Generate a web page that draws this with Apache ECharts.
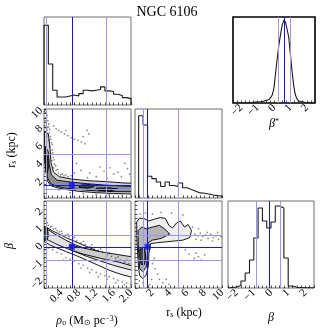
<!DOCTYPE html>
<html>
<head>
<meta charset="utf-8">
<script src="https://cdn.jsdelivr.net/npm/echarts@6/dist/echarts.min.js"></script>
<style>
  html, body { margin: 0; padding: 0; background: #fff; }
  #corner { width: 332px; height: 332px; }
</style>
</head>
<body>
<div id="corner"></div>
<script>
// 一维直方图 (bin 边界 + 计数)
const rhoEdges = [0.0, 0.1, 0.2, 0.3, 0.4, 0.5, 0.6, 0.7, 0.8, 0.9, 1.0, 1.1, 1.2, 1.3, 1.4, 1.5, 1.6, 1.7, 1.8, 1.9, 2.0];
const rhoCounts = [237, 122, 44, 24, 24, 27, 30, 27, 34, 44, 42, 44, 46, 54, 42, 40, 32, 28, 22, 19];
const rsEdges = [0.42, 0.93, 1.45, 1.94, 2.44, 2.95, 3.45, 3.96, 4.46, 4.97, 5.47, 5.98, 6.48, 6.99, 7.49, 8.0, 8.5, 9.0, 9.5, 10.0];
const rsCounts = [242, 215, 64, 57, 47, 34, 47, 37, 34, 44, 30, 25, 20, 15, 14, 12, 9, 7, 6];
const betaEdges = [-2.5, -2.25, -2.0, -1.75, -1.5, -1.25, -1.0, -0.75, -0.5, -0.25, 0.0, 0.25, 0.5, 0.75, 1.0, 1.25, 1.5, 1.75, 2.0, 2.25, 2.5];
const betaCounts = [0.5, 1, 2.5, 7, 15, 28, 50, 80, 67, 60, 66, 82, 80, 30, 2, 0.7, 0.5, 0.3, 0.2, 0.1];
const betaStarEdges = [-2.5, -2.4, -2.3, -2.2, -2.1, -2.0, -1.9, -1.8, -1.7, -1.6, -1.5, -1.4, -1.3, -1.2, -1.1, -1.0, -0.9, -0.8, -0.7, -0.6,
  -0.5, -0.4, -0.3, -0.2, -0.1, 0.0, 0.1, 0.2, 0.3, 0.4, 0.5, 0.6, 0.7, 0.8, 0.9, 1.0, 1.1, 1.2, 1.3, 1.4,
  1.5, 1.6, 1.7, 1.8, 1.9, 2.0, 2.1, 2.2, 2.3, 2.4, 2.5];
const betaStarCounts = [0, 0, 0, 0, 0, 0, 0, 0.2, 0.2, 0.3, 0.5, 0.6, 0.8, 1, 1.2, 1, 1.3, 1.5, 2, 2.5,
  3, 3.5, 4.5, 5.5, 8, 15, 30, 44, 57, 67, 76, 81, 79, 72, 64, 47, 31, 17, 8, 4,
  2, 1.2, 0.8, 0.5, 0.4, 0.3, 0.2, 0.1, 0, 0];

// 分位线 (16%, 50%, 84%)
const rhoQuant = [0.05, 0.64, 1.44];
const rsQuant = [0.95, 1.45, 4.97];
const betaQuant = [-0.88, -0.13, 0.55];
const betaStarQuant = [0.23, 0.65, 0.98];

// 刻度标签
const rhoTicks = [0.4, 0.8, 1.2, 1.6, 2.0];
const rsTicks = [2, 4, 6, 8, 10];
const betaTicks = [-2, -1, 0, 1, 2];

// rho - rs 面板
const rhoRsLevel1 = [[0.01, 7.5], [0.1, 7.2], [0.14, 5.5], [0.16, 4.0], [0.22, 2.9], [0.35, 2.4], [0.6, 2.15], [1.0, 1.95], [1.4, 1.85], [1.8, 1.7], [2.05, 1.65],
  [2.05, 0.45], [1.6, 0.5], [1.2, 0.6], [0.8, 0.75], [0.5, 0.95], [0.3, 1.15], [0.15, 1.4], [0.08, 1.9], [0.04, 3.0], [0.01, 4.5]];
const rhoRsLevel2 = [[0.03, 5.8], [0.1, 5.2], [0.12, 3.8], [0.17, 2.6], [0.3, 2.0], [0.6, 1.8], [1.0, 1.6], [1.4, 1.45], [1.8, 1.35], [2.05, 1.3],
  [2.05, 0.7], [1.6, 0.72], [1.2, 0.8], [0.8, 0.95], [0.5, 1.1], [0.3, 1.3], [0.15, 1.6], [0.08, 2.3], [0.05, 3.5]];
const rhoRsCoreA = [[0.04, 5.0], [0.09, 4.6], [0.1, 3.5], [0.08, 2.8], [0.05, 3.2], [0.035, 4.2]];
const rhoRsCoreB = [[0.85, 1.45], [1.05, 1.5], [1.15, 1.3], [1.0, 1.1], [0.8, 1.2]];
const rhoRsCoreC = [[1.2, 1.1], [1.5, 1.15], [1.7, 1.0], [1.5, 0.8], [1.25, 0.85]];
const rhoRsDots = [[0.02, 9.9], [0.04, 9.6], [0.07, 9.3], [0.03, 9.0], [0.09, 8.7], [0.05, 8.5], [0.11, 8.3], [0.02, 8.1], [0.08, 7.9], [0.13, 7.7],
  [0.05, 7.4], [0.1, 7.1], [0.15, 6.9], [0.12, 6.5], [0.17, 6.2], [0.14, 5.8], [0.19, 5.4], [0.16, 5.0], [0.21, 4.6], [0.18, 4.2],
  [0.24, 3.8], [0.22, 3.4], [0.28, 3.1], [0.33, 2.8], [0.38, 2.6], [0.46, 2.5], [0.55, 2.4], [0.62, 2.5],
  [0.01, 9.7], [0.06, 9.1], [0.03, 8.7], [0.1, 8.0], [0.07, 7.6], [0.03, 7.9], [0.12, 7.3], [0.06, 6.9], [0.16, 6.6], [0.19, 6.0],
  [0.2, 5.1], [0.23, 4.3], [0.27, 3.6], [0.31, 3.2], [0.42, 2.7], [0.5, 2.6],
  [0.22, 8.1], [0.28, 7.8], [0.34, 7.6], [0.4, 7.4], [0.47, 7.2], [0.55, 7.0], [0.62, 6.8], [0.7, 6.6], [0.78, 6.5], [0.86, 6.3],
  [0.94, 6.1], [0.99, 7.6], [1.03, 7.2], [0.9, 6.9], [0.5, 7.6],
  [0.75, 3.9], [0.85, 3.1], [1.05, 2.8], [1.2, 2.4], [1.29, 3.5], [1.38, 3.0], [1.52, 3.4], [1.6, 2.7], [1.7, 2.9], [1.78, 2.4],
  [1.86, 3.9], [1.92, 3.3], [1.97, 2.7], [1.45, 2.2], [1.0, 2.3], [0.7, 2.8],
  [0.6, 0.6], [0.9, 0.5], [1.2, 0.4], [1.5, 0.35], [1.8, 0.3], [0.35, 0.9]];

// rho - beta 面板
const rhoBetaLevel1 = [[0.0, 1.05], [0.05, 1.0], [0.2, 0.78], [0.52, 0.38], [0.8, 0.08], [1.06, -0.2], [1.3, -0.45], [1.52, -0.68], [1.75, -0.85], [2.05, -1.0],
  [2.05, -1.9], [1.75, -1.7], [1.52, -1.5], [1.25, -1.2], [0.98, -0.9], [0.75, -0.65], [0.52, -0.42], [0.3, -0.2], [0.14, -0.03], [0.05, 0.1], [0.0, 0.2]];
const rhoBetaLevel2 = [[0.0, 0.95], [0.1, 0.85], [0.25, 0.6], [0.5, 0.25], [0.7, 0.0], [1.0, -0.28], [1.3, -0.5], [1.6, -0.72], [2.05, -0.95],
  [2.05, -1.5], [1.6, -1.2], [1.3, -0.95], [1.0, -0.7], [0.7, -0.4], [0.5, -0.2], [0.3, 0.0], [0.1, 0.25], [0.0, 0.35]];
const rhoBetaLevel3 = [[0.6, -0.05], [0.9, -0.2], [1.29, -0.41], [1.7, -0.58], [2.05, -0.72], [2.05, -1.25], [1.7, -1.0], [1.29, -0.79], [0.9, -0.55], [0.62, -0.32]];
const rhoBetaCore = [[0.0, 0.95], [0.08, 0.95], [0.1, 0.5], [0.07, 0.25], [0.0, 0.25]];
const rhoBetaDots = [[0.03, 1.5], [0.02, 1.35], [0.05, 1.2], [0.1, 1.1], [0.15, 1.0], [0.22, 0.9], [0.3, 0.8], [0.35, 0.72], [0.42, 0.62], [0.5, 0.55],
  [0.58, 0.45], [0.66, 0.35], [0.75, 0.22], [0.85, 0.1], [0.95, 0.0], [1.05, -0.1], [1.15, -0.2], [1.25, -0.32], [1.35, -0.45], [1.45, -0.58],
  [1.55, -0.68], [1.65, -0.78], [1.75, -0.9], [1.85, -1.0], [1.95, -1.1],
  [0.08, 1.25], [0.18, 1.05], [0.27, 0.92], [0.4, 0.75], [0.55, 0.6], [0.7, 0.42], [0.9, 0.18], [1.1, -0.02], [1.3, -0.25], [1.5, -0.5],
  [1.7, -0.7], [1.9, -0.9],
  [0.01, -0.8], [0.02, -0.3], [0.05, -0.6], [0.1, -0.2], [0.2, -0.3], [0.3, -0.45], [0.4, -0.55], [0.5, -0.75], [0.6, -0.85], [0.7, -0.95],
  [0.8, -1.1], [0.9, -1.2], [1.0, -1.35], [1.1, -1.45], [1.2, -1.6], [1.3, -1.7], [1.4, -1.8], [1.5, -1.85], [1.6, -1.95], [1.7, -2.05],
  [1.8, -2.15], [1.9, -2.2], [2.0, -2.3],
  [0.45, -0.9], [0.65, -1.1], [0.85, -1.35], [1.05, -1.6], [1.25, -1.85], [1.45, -2.0], [1.65, -2.2], [1.85, -2.3]];

// rs - beta 面板
const rsBetaLevel1 = [[0.2, 1.3], [0.5, 1.5], [1.0, 1.5], [1.6, 1.35], [2.2, 1.45], [2.9, 1.55], [3.5, 1.5], [3.9, 1.1], [4.3, 0.95], [4.8, 1.25],
  [5.2, 1.35], [5.7, 1.0], [6.1, 1.15], [6.5, 0.8], [6.3, 0.4], [5.5, 0.25], [4.5, 0.2], [3.5, 0.15], [2.5, 0.1], [1.8, 0.05],
  [1.6, -0.5], [1.55, -1.2], [1.3, -1.75], [0.9, -1.95], [0.55, -1.8], [0.4, -1.3], [0.3, -0.5], [0.2, 0.5]];
const rsBetaLevel2 = [[0.35, 0.8], [0.8, 1.0], [1.3, 0.9], [2.0, 1.0], [2.8, 1.1], [3.4, 0.9], [4.0, 0.6], [3.0, 0.35], [2.0, 0.25], [1.5, 0.1],
  [1.45, -0.6], [1.3, -1.3], [0.9, -1.55], [0.55, -1.4], [0.45, -0.8], [0.38, 0.0]];
const rsBetaCore = [[0.55, -0.25], [1.1, -0.25], [1.25, -0.7], [1.1, -1.15], [0.7, -1.15], [0.55, -0.7]];
const rsBetaDots = [[6.9, 0.6], [7.2, 0.5], [7.5, 0.65], [7.8, 0.45], [8.1, 0.55], [8.4, 0.35], [8.7, 0.6], [9.0, 0.4], [9.3, 0.5], [9.6, 0.3],
  [9.9, 0.45], [7.0, 0.3], [7.6, 0.25], [8.3, 0.7], [8.9, 0.2], [9.5, 0.7], [6.6, 1.0], [7.3, 0.9], [5.5, 1.7], [4.2, 1.8],
  [3.0, 1.85], [2.0, 1.75], [1.2, 1.8], [0.6, 1.75],
  [2.0, -1.1], [2.3, -1.4], [2.6, -1.7], [2.8, -2.0], [3.2, -2.2], [3.6, -2.0], [3.9, -2.3], [2.2, -0.8], [1.9, -2.0], [1.7, -2.3],
  [0.9, -2.2], [0.5, -2.1],
  [7.0, -0.5], [7.3, -0.7], [7.6, -0.9], [6.8, -0.8], [8.0, -0.6], [5.8, -0.3], [6.2, -0.55]];

const FONT = 'Liberation Serif';
const DARK_BLUE = '#1414e6';
const LIGHT_BLUE = '#9898f2';

function stepData(edges, counts) {
  const d = [[edges[0], 0]];
  counts.forEach((c, i) => d.push([edges[i], c]));
  d.push([edges[edges.length - 1], counts[counts.length - 1]]);
  d.push([edges[edges.length - 1], 0]);
  return d;
}

function tickFormatter(ticks, digits) {
  return v => {
    const r = Math.round(v * 1000) / 1000;
    const hit = ticks.some(t => Math.abs(t - r) < 1e-6);
    if (!hit) return '';
    return (digits ? r.toFixed(digits) : String(r)).replace('-', '\u2212');
  };
}

function qLines(vals, key) {
  return vals.map((v, i) => ({
    [key]: v,
    lineStyle: { color: i === 1 ? DARK_BLUE : LIGHT_BLUE, width: 1, type: 'solid' }
  }));
}

function markLines(xq, yq) {
  let data = [];
  if (xq) data = data.concat(qLines(xq, 'xAxis'));
  if (yq) data = data.concat(qLines(yq, 'yAxis'));
  return { silent: true, symbol: ['none', 'none'], label: { show: false }, animation: false, data: data };
}

function axis(gi, min, max, interval, ticks, digits, showLabel) {
  return {
    gridIndex: gi, type: 'value', min: min, max: max, interval: interval,
    axisLine: { show: false, onZero: false },
    splitLine: { show: false },
    axisTick: { show: true, inside: true, length: 2.5, lineStyle: { color: '#222', width: 0.8 } },
    axisLabel: {
      show: showLabel, rotate: 45, margin: 3, fontFamily: FONT, fontSize: 11, color: '#000',
      formatter: tickFormatter(ticks, digits)
    }
  };
}

function hiddenAxis(gi, max) {
  return {
    gridIndex: gi, type: 'value', min: 0, max: max,
    axisLine: { show: false, onZero: false }, splitLine: { show: false },
    axisTick: { show: false }, axisLabel: { show: false }
  };
}

function hist(gi, edges, counts, xq) {
  return {
    type: 'line', xAxisIndex: gi, yAxisIndex: gi, step: 'end', showSymbol: false, silent: true,
    data: stepData(edges, counts), lineStyle: { color: '#1a1a1a', width: 1.1 }, z: 3,
    markLine: markLines(xq, null)
  };
}

function poly(gi, pts, fill) {
  return {
    type: 'custom', xAxisIndex: gi, yAxisIndex: gi, coordinateSystem: 'cartesian2d',
    clip: true, silent: true, z: 2, data: pts,
    renderItem: function (params, api) {
      if (params.dataIndex !== 0) return null;
      return {
        type: 'polygon',
        shape: { points: pts.map(p => api.coord(p)) },
        style: { fill: fill, stroke: '#000', lineWidth: 0.9 }
      };
    }
  };
}

function dots(gi, pts, xq, yq) {
  return {
    type: 'scatter', xAxisIndex: gi, yAxisIndex: gi, data: pts, symbolSize: 1.7, silent: true, z: 3,
    itemStyle: { color: 'rgba(0,0,0,0.6)' },
    markLine: markLines(xq, yq)
  };
}

function median(gi, x, y) {
  return {
    type: 'scatter', xAxisIndex: gi, yAxisIndex: gi, data: [[x, y]], symbol: 'rect', symbolSize: 6,
    silent: true, z: 4, itemStyle: { color: DARK_BLUE }
  };
}

const panel = (l, t, w, h, c, bw) => ({ left: l, top: t, width: w, height: h, show: true, borderColor: c || '#6e6e6e', borderWidth: bw || 1, backgroundColor: 'transparent' });

const chart = echarts.init(document.getElementById('corner'), null, { renderer: 'canvas' });
chart.setOption({
  animation: false,
  grid: [
    panel(44, 17, 87, 88),              // 0 rho hist
    panel(233, 17, 82, 86, '#000', 1.6), // 1 beta* hist
    panel(44, 109, 87, 89),             // 2 rho-rs
    panel(135, 109, 87, 89),            // 3 rs hist
    panel(44, 201, 87, 87),             // 4 rho-beta
    panel(135, 201, 87, 87),            // 5 rs-beta
    panel(228, 201, 86, 87)             // 6 beta hist
  ],
  xAxis: [
    axis(0, 0, 2, 0.1, rhoTicks, 1, false),
    axis(1, -2.5, 2.5, 0.25, betaTicks, 0, true),
    axis(2, 0, 2, 0.1, rhoTicks, 1, false),
    axis(3, 0, 10, 0.5, rsTicks, 0, false),
    axis(4, 0, 2, 0.1, rhoTicks, 1, true),
    axis(5, 0, 10, 0.5, rsTicks, 0, true),
    axis(6, -2.5, 2.5, 0.25, betaTicks, 0, true)
  ],
  yAxis: [
    hiddenAxis(0, 262),
    hiddenAxis(1, 84),
    axis(2, 0, 10, 0.5, rsTicks, 0, true),
    hiddenAxis(3, 262),
    axis(4, -2.5, 2.5, 0.25, betaTicks, 0, true),
    axis(5, -2.5, 2.5, 0.25, betaTicks, 0, false),
    hiddenAxis(6, 87)
  ],
  series: [
    hist(0, rhoEdges, rhoCounts, rhoQuant),
    hist(1, betaStarEdges, betaStarCounts, betaStarQuant),
    hist(3, rsEdges, rsCounts, rsQuant),
    hist(6, betaEdges, betaCounts, betaQuant),

    poly(2, rhoRsLevel1, '#d2d2d2'),
    poly(2, rhoRsLevel2, '#8e8e8e'),
    poly(2, rhoRsCoreA, '#3a3a3a'),
    poly(2, rhoRsCoreB, '#3a3a3a'),
    poly(2, rhoRsCoreC, '#3a3a3a'),
    dots(2, rhoRsDots, rhoQuant, rsQuant),
    median(2, rhoQuant[1], rsQuant[1]),

    poly(4, rhoBetaLevel1, '#f3f3f3'),
    poly(4, rhoBetaLevel2, '#e2e2e2'),
    poly(4, rhoBetaLevel3, '#cdcdcd'),
    poly(4, rhoBetaCore, '#4c4c4c'),
    dots(4, rhoBetaDots, rhoQuant, betaQuant),
    median(4, rhoQuant[1], betaQuant[1]),

    poly(5, rsBetaLevel1, '#eeeeee'),
    poly(5, rsBetaLevel2, '#b6b6b6'),
    poly(5, rsBetaCore, '#474747'),
    dots(5, rsBetaDots, rsQuant, betaQuant),
    median(5, rsQuant[1], betaQuant[1])
  ],
  graphic: [
    { type: 'text', x: 167, y: 12, style: { text: 'NGC 6106', font: '14px "Liberation Serif"', fill: '#000', align: 'center', verticalAlign: 'middle' } },
    { type: 'text', x: 87, y: 321, style: {
        text: '{i|ρ}{sb|o}{n| (M}{sb|⊙}{n| pc}{sp|−3}{n|)}', align: 'center', verticalAlign: 'middle',
        rich: {
          n: { fontFamily: FONT, fontSize: 12, fill: '#000' },
          i: { fontFamily: FONT, fontSize: 12, fontStyle: 'italic', fill: '#000' },
          sb: { fontFamily: FONT, fontSize: 8, fill: '#000', verticalAlign: 'bottom' },
          sp: { fontFamily: FONT, fontSize: 8, fill: '#000', verticalAlign: 'top' }
        } } },
    { type: 'text', x: 184, y: 313, style: {
        text: '{n|r}{sb|s}{n| (kpc)}', align: 'center', verticalAlign: 'middle',
        rich: {
          n: { fontFamily: FONT, fontSize: 12, fill: '#000' },
          sb: { fontFamily: FONT, fontSize: 8, fill: '#000', verticalAlign: 'bottom' }
        } } },
    { type: 'text', x: 271, y: 318, style: { text: 'β', font: 'italic 12px "Liberation Serif"', fill: '#000', align: 'center', verticalAlign: 'middle' } },
    { type: 'text', x: 12, y: 150, rotation: Math.PI / 2, style: {
        text: '{n|r}{sb|s}{n| (kpc)}', align: 'center', verticalAlign: 'middle',
        rich: {
          n: { fontFamily: FONT, fontSize: 12, fill: '#000' },
          sb: { fontFamily: FONT, fontSize: 8, fill: '#000', verticalAlign: 'bottom' }
        } } },
    { type: 'text', x: 10, y: 246, rotation: Math.PI / 2, style: { text: 'β', font: 'italic 12px "Liberation Serif"', fill: '#000', align: 'center', verticalAlign: 'middle' } },
    { type: 'text', x: 274, y: 124, style: {
        text: '{i|β}{sp|*}', align: 'center', verticalAlign: 'middle',
        rich: {
          i: { fontFamily: FONT, fontSize: 12, fontStyle: 'italic', fill: '#000' },
          sp: { fontFamily: FONT, fontSize: 8, fill: '#000', verticalAlign: 'top' }
        } } }
  ]
});
</script>
</body>
</html>
